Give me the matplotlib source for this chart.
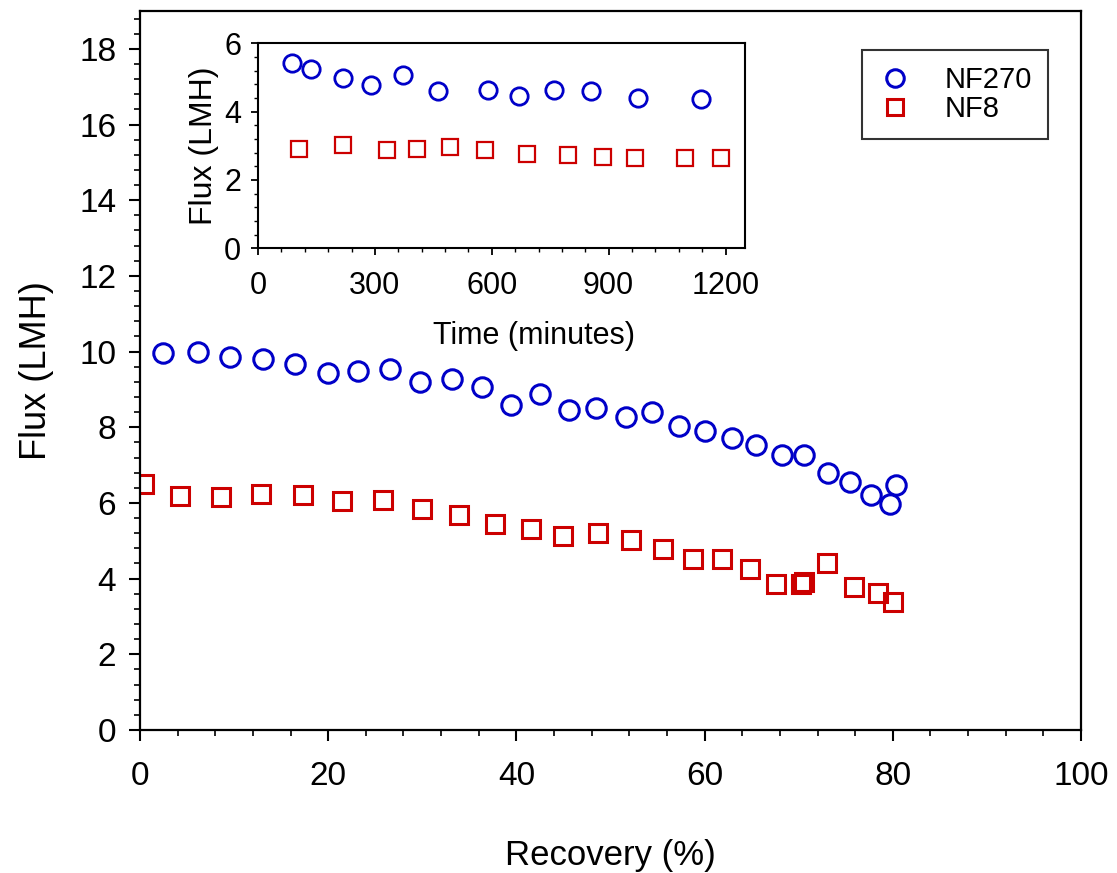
import numpy as np
import matplotlib
matplotlib.use("Agg")
import matplotlib.pyplot as plt
from matplotlib.ticker import AutoMinorLocator, MultipleLocator

plt.rcParams['font.family'] = ['Liberation Sans', 'DejaVu Sans']

BLUE = '#0000c8'
RED = '#cc0000'

# flux vs recovery
rec_nf270 = [2.5, 6.2, 9.6, 13.1, 16.5, 20.0, 23.2, 26.6, 29.8, 33.2, 36.3, 39.4,
             42.5, 45.6, 48.5, 51.6, 54.4, 57.3, 60.0, 62.9, 65.5, 68.2, 70.6,
             73.1, 75.4, 77.7, 79.7, 80.3]
flux_nf270 = [9.97, 9.98, 9.85, 9.81, 9.68, 9.44, 9.48, 9.54, 9.19, 9.28, 9.06, 8.58,
              8.89, 8.45, 8.51, 8.27, 8.40, 8.03, 7.89, 7.72, 7.52, 7.26, 7.26,
              6.79, 6.55, 6.20, 5.98, 6.47]

rec_nf8 = [0.4, 4.3, 8.6, 12.9, 17.3, 21.5, 25.8, 30.0, 33.9, 37.7, 41.5, 45.0,
           48.7, 52.2, 55.6, 58.8, 61.9, 64.8, 67.6, 70.2, 70.6, 73.0, 75.9,
           78.4, 80.0]
flux_nf8 = [6.51, 6.18, 6.16, 6.24, 6.20, 6.05, 6.09, 5.85, 5.69, 5.45, 5.32, 5.12,
            5.21, 5.03, 4.77, 4.51, 4.53, 4.25, 3.87, 3.87, 3.91, 4.42, 3.78,
            3.63, 3.39]

# flux vs time (inset)
t_nf270 = [86, 136, 219, 289, 371, 462, 589, 671, 759, 855, 975, 1138]
tflux_nf270 = [5.41, 5.26, 4.97, 4.77, 5.08, 4.59, 4.62, 4.47, 4.62, 4.59, 4.40, 4.38]

t_nf8 = [104, 219, 330, 409, 494, 582, 690, 795, 886, 967, 1097, 1188]
tflux_nf8 = [2.90, 3.02, 2.87, 2.90, 2.95, 2.87, 2.77, 2.72, 2.67, 2.63, 2.63, 2.63]

fig = plt.figure(figsize=(11.17, 8.73), dpi=100)
ax = fig.add_axes([0.1253, 0.1638, 0.8425, 0.8236])

ax.plot(rec_nf270, flux_nf270, 'o', ms=14, mfc='none', mec=BLUE, mew=2.2, label='NF270')
ax.plot(rec_nf8, flux_nf8, 's', ms=12.5, mfc='none', mec=RED, mew=2.2, label='NF8')

ax.set_xlim(0, 100)
ax.set_ylim(0, 19)
ax.xaxis.set_major_locator(MultipleLocator(20))
ax.yaxis.set_major_locator(MultipleLocator(2))
ax.xaxis.set_minor_locator(AutoMinorLocator(5))
ax.yaxis.set_minor_locator(AutoMinorLocator(5))
ax.tick_params(which='major', direction='out', length=8, width=1.5, labelsize=24)
ax.tick_params(axis='x', which='major', pad=14)
ax.tick_params(axis='y', which='major', pad=9)
ax.tick_params(which='minor', direction='out', length=4, width=1.2)
for s in ax.spines.values():
    s.set_linewidth(1.6)
ax.set_xlabel('Recovery (%)', fontsize=25, labelpad=34)
ax.set_ylabel('Flux (LMH)', fontsize=26, labelpad=18)

leg = ax.legend(loc='upper right', bbox_to_anchor=(0.965, 0.946), fontsize=21,
                frameon=True, fancybox=False, edgecolor='black', borderaxespad=0,
                handlelength=1.2, handletextpad=1.1, borderpad=0.55,
                labelspacing=0.05, markerscale=0.9)
leg.get_frame().set_linewidth(1.5)

# inset: flux over time
ins = fig.add_axes([0.2310, 0.7156, 0.4360, 0.2348])
ins.plot(t_nf270, tflux_nf270, 'o', ms=12.5, mfc='none', mec=BLUE, mew=2.0)
ins.plot(t_nf8, tflux_nf8, 's', ms=11, mfc='none', mec=RED, mew=1.6)
ins.set_xlim(0, 1250)
ins.set_ylim(0, 6)
ins.xaxis.set_major_locator(MultipleLocator(300))
ins.yaxis.set_major_locator(MultipleLocator(2))
ins.xaxis.set_minor_locator(AutoMinorLocator(5))
ins.yaxis.set_minor_locator(AutoMinorLocator(5))
ins.tick_params(which='major', direction='out', length=5, width=1.3, labelsize=22)
ins.tick_params(axis='x', which='major', pad=11)
ins.tick_params(axis='y', which='major', pad=7)
ins.tick_params(which='minor', direction='out', length=3, width=1.0)
for s in ins.spines.values():
    s.set_linewidth(1.5)
ins.set_xlabel('Time (minutes)', fontsize=22, labelpad=15)
ins.xaxis.label.set_x(0.567)
ins.set_ylabel('Flux (LMH)', fontsize=23, labelpad=4)

fig.savefig('out.png', dpi=100)
